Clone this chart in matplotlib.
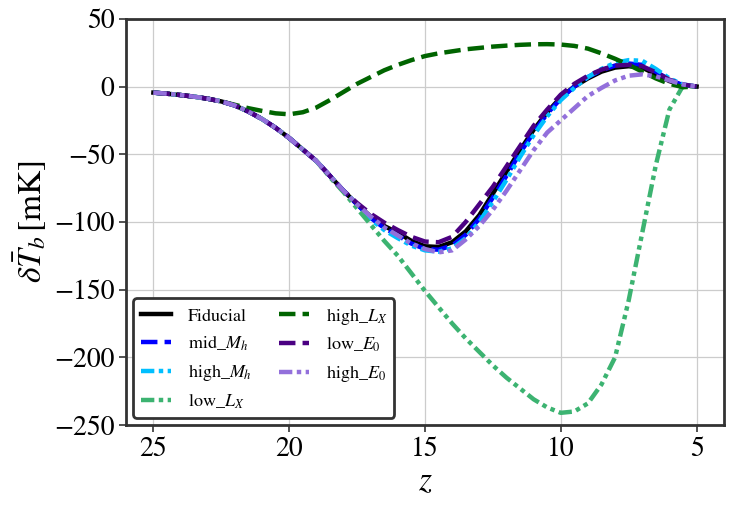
import numpy as np
import matplotlib
matplotlib.use("Agg")
import matplotlib.pyplot as plt

plt.rcParams['font.family'] = ['STIXGeneral', 'DejaVu Serif']
plt.rcParams['mathtext.fontset'] = 'stix'

# redshift grid (0.5 steps, 25 -> 5)
z = [25, 24.5, 24, 23.5, 23, 22.5, 22, 21.5, 21, 20.5, 20, 19.5, 19, 18.5, 18,
     17.5, 17, 16.5, 16, 15.5, 15, 14.5, 14, 13.5, 13, 12.5, 12, 11.5, 11,
     10.5, 10, 9.5, 9, 8.5, 8, 7.5, 7, 6.5, 6, 5.5, 5]

early = [-4.5, -5.3, -6.3, -7.5, -9, -11, -14, -18.5, -24, -30.5, -38, -46.5,
         -55, -66, -77, -87]

fiducial = early + [-96, -103, -108, -114, -118, -118.5, -115, -107, -95, -79,
                    -63, -47, -32, -19, -8, 0, 6, 11, 14, 15, 14, 9, 4, 1, 0]
mid_Mh = early + [-97, -104.5, -110, -116, -120, -120.5, -117.5, -109.5, -97.5,
                  -82, -66, -49, -34, -20, -9, 0, 7, 12, 15.5, 17, 16, 11, 5, 1, 0]
high_Mh = early + [-98, -106, -112, -117.5, -121, -122, -119.5, -112, -100, -85,
                   -69, -52, -36, -22, -10, -1, 7, 13, 17.5, 19.5, 19, 13, 6, 1.5, 0]
low_Lx = early[:13] + [-67, -78, -90, -102, -114, -125, -138, -151, -163, -175,
                       -186, -196, -206, -215, -223, -231, -237, -241, -240, -234,
                       -220, -200, -158, -108, -58, -17, 0.5, 0]
high_Lx = [-4.5, -5.3, -6.3, -7.5, -9, -11, -13.5, -16, -18, -19.8, -20.5, -19,
           -15.5, -10, -4, 2, 7, 12, 16, 19.5, 22.5, 24.5, 26, 27.5, 28.5, 29.5,
           30.2, 30.8, 31.2, 31.3, 31, 30, 28, 24.5, 20.5, 16, 11, 6, 2, -0.5, 0]
low_E0 = early[:15] + [-86, -94, -100.5, -106, -111, -114.5, -115, -111, -100, -87,
                       -74, -59, -44, -29, -17, -6, 2, 8, 12.5, 15.5, 16, 15, 10.5,
                       5, 1.5, 0]
high_E0 = early + [-96, -104, -110, -116, -120, -122.5, -121, -113, -103, -91,
                   -77, -62, -47, -34, -25, -16, -7, -1, 4.5, 8, 9, 7.5, 4.5, 1.5, 0]

series = [
    ("Fiducial", fiducial, "black", "-"),
    ("mid_$M_h$", mid_Mh, "blue", "--"),
    ("high_$M_h$", high_Mh, "deepskyblue", (0, (3, 1, 1, 1, 1, 1))),
    ("low_$L_X$", low_Lx, "mediumseagreen", (0, (3, 1, 1, 1, 1, 1))),
    ("high_$L_X$", high_Lx, "darkgreen", "--"),
    ("low_$E_0$", low_E0, "indigo", "--"),
    ("high_$E_0$", high_E0, "mediumpurple", (0, (3, 1, 1, 1, 1, 1))),
]

fig = plt.figure(figsize=(7.34, 5.09), dpi=100)
ax = fig.add_axes([0.172, 0.165, 0.814, 0.798])

for label, vals, color, ls in series:
    ax.plot(z, vals, color=color, linestyle=ls, lw=3.2, label=label)

ax.set_xlim(26, 4)
ax.set_ylim(-250, 50)
ax.set_xticks([25, 20, 15, 10, 5])
ax.set_yticks([50, 0, -50, -100, -150, -200, -250])
ax.grid(True, color='#cccccc', lw=0.9)
ax.set_axisbelow(True)
ax.tick_params(labelsize=20, direction='out', length=5, width=1.2, color='#333333')
for sp in ax.spines.values():
    sp.set_color('#333333')
    sp.set_linewidth(2)

ax.set_xlabel(r'$z$', fontsize=24)
ax.set_ylabel(r'$\delta\bar{T}_b\,[\mathrm{mK}]$', fontsize=24)

leg = ax.legend(loc='lower left', ncol=2, fontsize=13, frameon=True,
                fancybox=True, handlelength=1.7, handletextpad=0.9,
                columnspacing=1.5, labelspacing=0.5, borderaxespad=0.4)
leg.get_frame().set_edgecolor('#333333')
leg.get_frame().set_linewidth(2)
leg.get_frame().set_alpha(1)

fig.savefig("out.png", dpi=100)
